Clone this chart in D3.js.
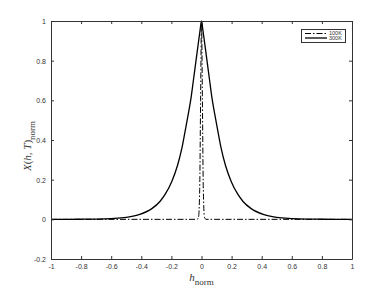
<!DOCTYPE html>
<html>
<head>
  <meta charset="utf-8">
  <script src="https://d3js.org/d3.v7.min.js"></script>
  <style>
    body { margin: 0; background: #fff; }
    text { font-family: "Liberation Sans", Arial, sans-serif; }
  </style>
</head>
<body>
<div id="container"></div>
<script>
  // values
  var h300 = [-1, -0.8, -0.7, -0.6, -0.5, -0.41, -0.33, -0.276, -0.24, -0.198, -0.16, -0.13, -0.11, -0.088, -0.07, -0.054, -0.04, -0.025, -0.01, 0,
              0.01, 0.025, 0.04, 0.054, 0.07, 0.088, 0.11, 0.13, 0.16, 0.198, 0.24, 0.276, 0.33, 0.41, 0.5, 0.6, 0.7, 0.8, 1];
  var x300 = [0, 0.0005, 0.0013, 0.004, 0.01, 0.025, 0.054, 0.09, 0.128, 0.19, 0.27, 0.36, 0.44, 0.53, 0.61, 0.70, 0.78, 0.866, 0.95, 1,
              0.95, 0.866, 0.78, 0.70, 0.61, 0.53, 0.44, 0.36, 0.27, 0.19, 0.128, 0.09, 0.054, 0.025, 0.01, 0.004, 0.0013, 0.0005, 0];
  var h100 = [-1, -0.03, -0.02, -0.012, -0.006, 0, 0.006, 0.012, 0.02, 0.03, 1];
  var x100 = [0, 0, 0.01, 0.15, 0.6, 1, 0.6, 0.15, 0.01, 0, 0];
  var xTicks = [-1, -0.8, -0.6, -0.4, -0.2, 0, 0.2, 0.4, 0.6, 0.8, 1];
  var yTicks = [-0.2, 0, 0.2, 0.4, 0.6, 0.8, 1];
  var seriesNames = ['100K', '300K'];

  var W = 389, H = 292;
  var margin = {left: 51, right: 37, top: 21, bottom: 33};

  var svg = d3.select('#container').append('svg')
    .attr('width', W).attr('height', H);

  var x = d3.scaleLinear().domain([-1, 1]).range([margin.left, W - margin.right]);
  var y = d3.scaleLinear().domain([-0.2, 1]).range([H - margin.bottom, margin.top]);

  var line = d3.line()
    .x(d => x(d[0]))
    .y(d => y(d[1]))
    .curve(d3.curveMonotoneX);

  svg.append('path')
    .datum(d3.zip(h100, x100))
    .attr('d', line)
    .attr('fill', 'none')
    .attr('stroke', '#000')
    .attr('stroke-width', 1)
    .attr('stroke-dasharray', '6,2,1.5,2');

  svg.append('path')
    .datum(d3.zip(h300, x300))
    .attr('d', line)
    .attr('fill', 'none')
    .attr('stroke', '#000')
    .attr('stroke-width', 1.3);

  // axes, ticks inside on all four sides
  var fmt = d => String(d);
  var axisCol = '#333';
  var gb = svg.append('g').attr('transform', `translate(0,${y(-0.2)})`)
    .call(d3.axisBottom(x).tickValues(xTicks).tickSizeInner(-3).tickSizeOuter(0).tickPadding(5).tickFormat(fmt));
  var gt = svg.append('g').attr('transform', `translate(0,${y(1)})`)
    .call(d3.axisTop(x).tickValues(xTicks).tickSizeInner(-3).tickSizeOuter(0).tickFormat(''));
  var gl = svg.append('g').attr('transform', `translate(${x(-1)},0)`)
    .call(d3.axisLeft(y).tickValues(yTicks).tickSizeInner(-3).tickSizeOuter(0).tickPadding(5).tickFormat(fmt));
  var gr = svg.append('g').attr('transform', `translate(${x(1)},0)`)
    .call(d3.axisRight(y).tickValues(yTicks).tickSizeInner(-3).tickSizeOuter(0).tickFormat(''));

  [gb, gt, gl, gr].forEach(function(g) {
    g.select('.domain').attr('stroke', axisCol).attr('stroke-width', 1);
    g.selectAll('.tick line').attr('stroke', axisCol);
    g.selectAll('text').attr('fill', '#333').style('font-size', '7px')
      .style('font-family', '"Liberation Sans", Arial, sans-serif');
  });
  gl.selectAll('text').attr('dy', '0.35em');

  // axis labels
  var xl = svg.append('text')
    .attr('x', x(0)).attr('y', 281)
    .attr('text-anchor', 'middle')
    .style('font-family', '"Liberation Serif", "DejaVu Serif", serif')
    .style('font-size', '11px')
    .attr('fill', '#333');
  xl.append('tspan').style('font-style', 'italic').text('h');
  xl.append('tspan').attr('dy', 4).style('font-size', '9px').text('norm');

  var yl = svg.append('text')
    .attr('transform', 'translate(31,146) rotate(-90)')
    .attr('text-anchor', 'middle')
    .style('font-family', '"Liberation Serif", "DejaVu Serif", serif')
    .style('font-size', '11px')
    .attr('fill', '#333');
  yl.append('tspan').style('font-style', 'italic').text('X');
  yl.append('tspan').text('(');
  yl.append('tspan').style('font-style', 'italic').text('h');
  yl.append('tspan').text(', ');
  yl.append('tspan').style('font-style', 'italic').text('T');
  yl.append('tspan').text(')');
  yl.append('tspan').attr('dy', 4).style('font-size', '9px').text('norm');

  // legend
  var lg = svg.append('g');
  lg.append('rect')
    .attr('x', 301.5).attr('y', 29.5).attr('width', 44).attr('height', 13)
    .attr('fill', '#fff').attr('stroke', axisCol).attr('stroke-width', 1);
  seriesNames.forEach(function(name, i) {
    var ly = 33.5 + i * 4.5;
    lg.append('line')
      .attr('x1', 305).attr('x2', 327).attr('y1', ly).attr('y2', ly)
      .attr('stroke', '#000')
      .attr('stroke-width', i === 0 ? 1 : 1.3)
      .attr('stroke-dasharray', i === 0 ? '6,2,1.5,2' : null);
    lg.append('text')
      .attr('x', 329).attr('y', ly).attr('dy', '0.35em')
      .style('font-size', '5.5px')
      .attr('fill', '#333')
      .text(name);
  });
</script>
</body>
</html>
